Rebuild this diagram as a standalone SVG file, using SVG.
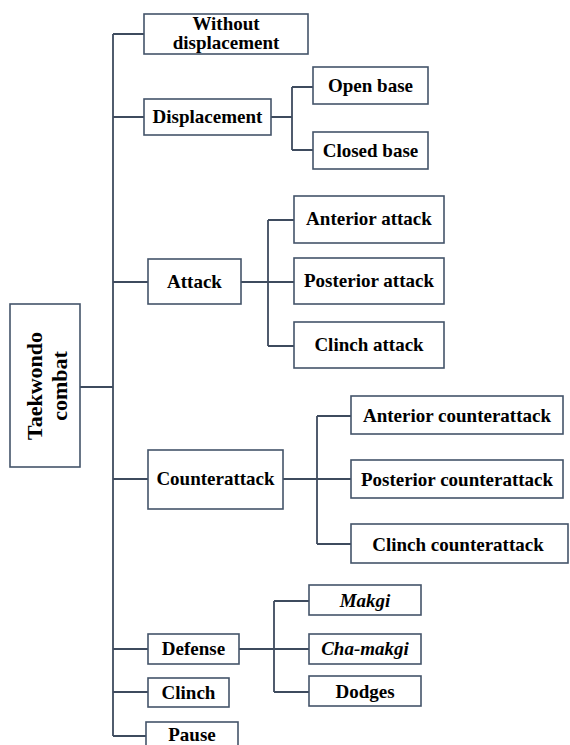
<svg xmlns="http://www.w3.org/2000/svg" width="570" height="745" viewBox="0 0 570 745">
<style>
.box{fill:#fff;stroke:#44546a;stroke-width:1.6}
.c{fill:none;stroke:#3e4b5e;stroke-width:1.8}
text{font-family:'Liberation Serif','Times New Roman',Times,serif;font-weight:700;font-size:19px;fill:#000;text-anchor:middle}
.it{font-style:italic}
.v{font-size:22px}
</style>
<rect width="570" height="745" fill="#fff"/>
<g id="connectors">
<path class="c" d="M113 34V736"/>
<path class="c" d="M80 387H113"/>
<path class="c" d="M113 34H144M113 117H144M113 282H148M113 479H148M113 649H148M113 692H148M113 736H146"/>
<path class="c" d="M271 117H292M292 87V150M292 87H313M292 150H313"/>
<path class="c" d="M241 282H294M268 220V346M268 220H294M268 346H294"/>
<path class="c" d="M283 479H351M317 416V544M317 416H351M317 544H351"/>
<path class="c" d="M239 649H309M274 601V692M274 601H309M274 692H309"/>
</g>
<g id="root"><rect class="box" x="10" y="304" width="70" height="163"/>
<text class="v" transform="translate(42 386) rotate(-90)">Taekwondo</text>
<text class="v" transform="translate(67 386) rotate(-90)">combat</text></g>
<g id="without"><rect class="box" x="144" y="14" width="164" height="40"/><text x="226" y="30">Without</text><text x="226" y="49">displacement</text></g>
<g id="displacement"><rect class="box" x="144" y="99" width="127" height="36"/><text x="207.5" y="123">Displacement</text></g>
<g id="openbase"><rect class="box" x="313" y="67" width="115" height="37"/><text x="370.5" y="92">Open base</text></g>
<g id="closedbase"><rect class="box" x="313" y="132" width="115" height="37"/><text x="370.5" y="157">Closed base</text></g>
<g id="attack"><rect class="box" x="148" y="259" width="93" height="45"/><text x="194.5" y="288">Attack</text></g>
<g id="anterior"><rect class="box" x="294" y="196" width="150" height="47"/><text x="369" y="225">Anterior attack</text></g>
<g id="posterior"><rect class="box" x="294" y="258" width="150" height="46"/><text x="369" y="287">Posterior attack</text></g>
<g id="clinchattack"><rect class="box" x="294" y="322" width="150" height="46"/><text x="369" y="351">Clinch attack</text></g>
<g id="counterattack"><rect class="box" x="148" y="450" width="135" height="59"/><text x="215.5" y="485">Counterattack</text></g>
<g id="antcounter"><rect class="box" x="351" y="396" width="212" height="38"/><text x="457" y="422">Anterior counterattack</text></g>
<g id="postcounter"><rect class="box" x="351" y="460" width="212" height="38"/><text x="457" y="486">Posterior counterattack</text></g>
<g id="clinchcounter"><rect class="box" x="351" y="524" width="217" height="39"/><text x="458" y="551">Clinch counterattack</text></g>
<g id="defense"><rect class="box" x="148" y="634" width="91" height="30"/><text x="193.5" y="655">Defense</text></g>
<g id="makgi"><rect class="box" x="309" y="585" width="112" height="30"/><text class="it" x="365" y="607">Makgi</text></g>
<g id="chamakgi"><rect class="box" x="309" y="634" width="112" height="30"/><text class="it" x="365" y="655">Cha-makgi</text></g>
<g id="dodges"><rect class="box" x="309" y="676" width="112" height="30"/><text x="365" y="698">Dodges</text></g>
<g id="clinch"><rect class="box" x="148" y="678" width="81" height="29"/><text x="188.5" y="699">Clinch</text></g>
<g id="pause"><rect class="box" x="146" y="722" width="92" height="40"/><text x="192" y="741">Pause</text></g>
</svg>
